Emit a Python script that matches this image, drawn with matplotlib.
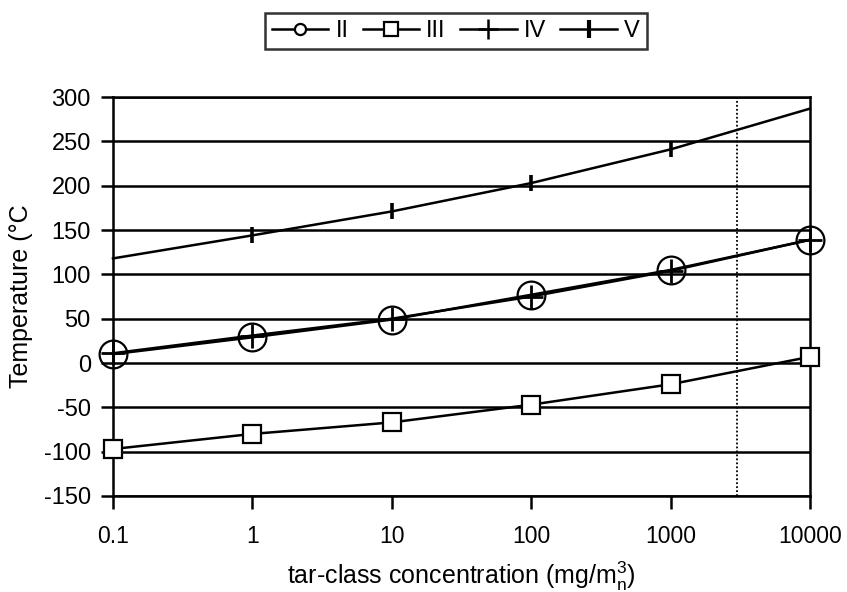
import matplotlib
matplotlib.use("Agg")
import matplotlib.pyplot as plt
from matplotlib.lines import Line2D

plt.rcParams['font.family'] = ['Liberation Sans', 'DejaVu Sans']
plt.rcParams['axes.unicode_minus'] = False

conc = [0.1, 1, 10, 100, 1000, 10000]
II = [10, 29, 49, 77, 105, 139]
III = [-97, -80, -67, -47, -24, 7]
IV = [11, 31, 50, 75, 104, 139]
V = [118, 144, 171, 203, 241, 287]
V_marked = [1, 2, 3, 4]
limit_conc = 3000
xticklabels = ['0.1', '1', '10', '100', '1000', '10000']
yticks = list(range(-150, 301, 50))

fig = plt.figure(figsize=(8.47, 5.92), dpi=100)
ax = fig.add_axes([0.1334, 0.1622, 0.8229, 0.6738])
ax.set_xscale('log')
ax.set_xlim(0.1, 10000)
ax.set_ylim(-150, 300)

for y in yticks:
    ax.axhline(y, color='black', lw=1.8, zorder=1)

ax.axvline(limit_conc, color='black', lw=1.3, ls=(0, (1, 1.2)), zorder=1)

ax.plot(conc, III, color='black', lw=1.8, marker='s', ms=12.5, mfc='white',
        mec='black', mew=1.6, zorder=3, clip_on=False)
ax.plot(conc, II, color='black', lw=1.8, marker='o', ms=20, mfc='none',
        mec='black', mew=1.6, zorder=3, clip_on=False)
ax.plot(conc, IV, color='black', lw=1.8, marker='+', ms=17,
        mec='black', mew=2.0, zorder=4, clip_on=False)
ax.plot(conc, V, color='black', lw=1.8, marker='|', ms=11,
        mec='black', mew=2.6, markevery=V_marked, zorder=4, clip_on=False)

for s in ax.spines.values():
    s.set_linewidth(1.8)
    s.set_color('black')

ax.set_xticks(conc)
ax.set_xticklabels(xticklabels, fontsize=16.5)
ax.xaxis.set_minor_locator(matplotlib.ticker.NullLocator())
ax.set_yticks(yticks)
ax.tick_params(axis='both', direction='out', length=9, width=1.8, colors='black')
ax.tick_params(axis='y', labelsize=17, pad=7)
ax.tick_params(axis='x', pad=12)

ax.set_ylabel('Temperature (°C', fontsize=18, labelpad=8)
ax.set_xlabel(r'tar-class concentration (mg/m$_\mathregular{n}^\mathregular{3}$)',
              fontsize=18, labelpad=8)

handles = [
    Line2D([], [], color='black', lw=1.8, marker='o', ms=8, mfc='white', mew=1.6),
    Line2D([], [], color='black', lw=1.8, marker='s', ms=9.5, mfc='white', mew=1.6),
    Line2D([], [], color='black', lw=1.8, marker='+', ms=14, mew=1.8),
    Line2D([], [], color='black', lw=1.8, marker='|', ms=13, mew=3.0),
]
leg = fig.legend(handles, ['II', 'III', 'IV', 'V'], loc='center', bbox_to_anchor=(0.538, 0.947),
                 ncol=4, frameon=True, fancybox=False, fontsize=17, handlelength=2.4,
                 handletextpad=0.3, columnspacing=0.6, borderpad=0.3, borderaxespad=0)
leg.get_frame().set_edgecolor('black')
leg.get_frame().set_linewidth(1.8)

fig.savefig('out.png', dpi=100)
